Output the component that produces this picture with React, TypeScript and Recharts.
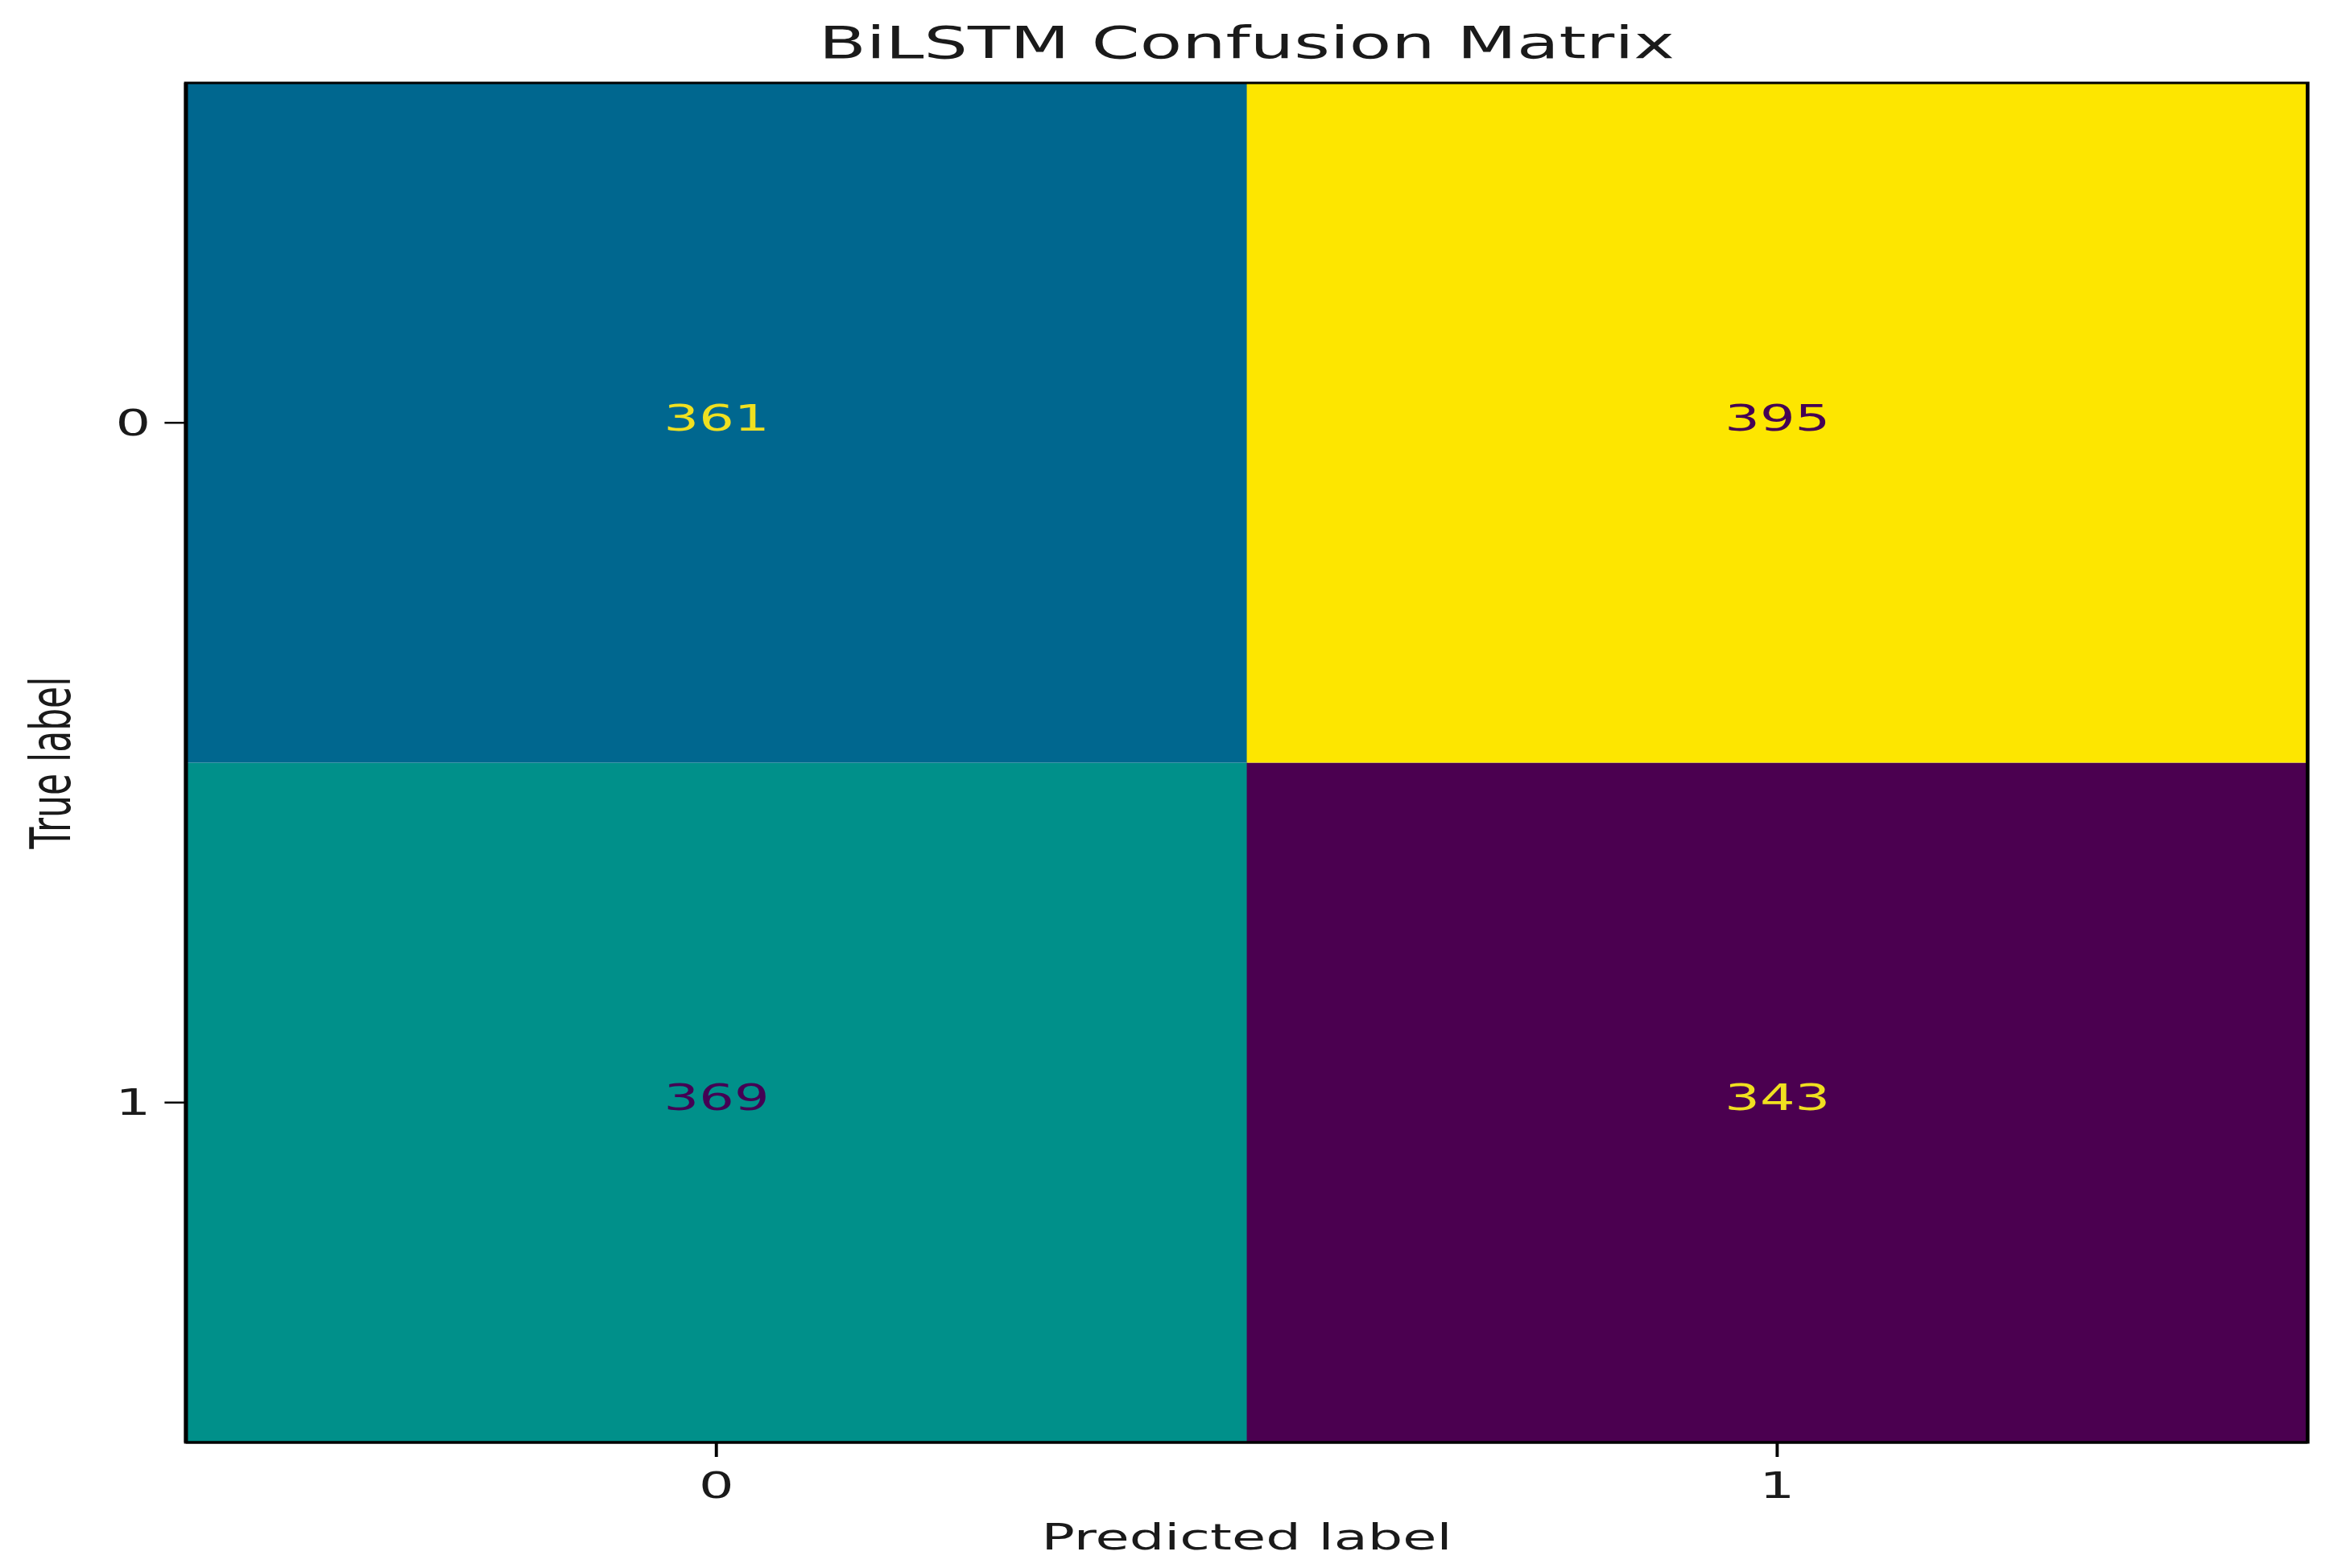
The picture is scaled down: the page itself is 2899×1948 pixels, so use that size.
import React from "react"
import { BarChart, Bar, XAxis, YAxis, Cell, LabelList, Customized, ReferenceArea } from "recharts"

// confusion matrix: rows = true label, columns = predicted label
const predictedLabels = ["0", "1"]
const trueLabels = ["0", "1"]
const trueZeroCounts = [361, 395]
const trueOneCounts = [369, 343]

const chartTitle = "BiLSTM Confusion Matrix"
const xAxisTitle = "Predicted label"
const yAxisTitle = "True label"

// the source figure is a matplotlib plot stretched sideways, so draw it narrow and scale it
const FIG_W = 2899
const FIG_H = 1948
const STRETCH = 1.56
const CHART_W = Math.round(FIG_W / STRETCH)
const Y_AXIS_W = 148
const X_AXIS_H = 150
const MARGIN = { top: 103, right: 21, left: 0, bottom: 6 }
const FONT = "'DejaVu Sans', sans-serif"
const INK = "#1a1a1a"

// viridis-like colormap (a bit punchier, as in the picture)
const cmapStops: [number, number[]][] = [
  [0, [75, 0, 80]],
  [0.25, [0, 78, 146]],
  [0.5, [0, 144, 138]],
  [0.75, [80, 200, 100]],
  [1, [253, 230, 0]],
]

const allCounts = [...trueZeroCounts, ...trueOneCounts]
const vmin = Math.min(...allCounts)
const vmax = Math.max(...allCounts)

function cmap(t: number) {
  const tt = Math.max(0, Math.min(1, t))
  for (let i = 1; i < cmapStops.length; i++) {
    const [t1, c1] = cmapStops[i]
    const [t0, c0] = cmapStops[i - 1]
    if (tt <= t1) {
      const f = (tt - t0) / (t1 - t0)
      const c = c0.map((v, k) => Math.round(v + (c1[k] - v) * f))
      return `rgb(${c[0]},${c[1]},${c[2]})`
    }
  }
  return "rgb(253,230,0)"
}

const cellColor = (v: number) => cmap((v - vmin) / (vmax - vmin))
const textColor = (v: number) => (v < (vmin + vmax) / 2 ? "#f0e020" : "#440154")

const data = predictedLabels.map((p, i) => ({
  pred: p,
  lower: 1,
  upper: 1,
  countLower: trueOneCounts[i],
  countUpper: trueZeroCounts[i],
}))

const yTicks = trueLabels.map((_, i) => trueLabels.length - i - 0.5)
const yTickLabel = (v: number) => trueLabels[Math.round(trueLabels.length - 0.5 - v)]

const renderCount = (props: any) => {
  const x = Number(props.x)
  const y = Number(props.y)
  const w = Number(props.width)
  const h = Number(props.height)
  const v = Number(props.value)
  return (
    <text
      x={x + w / 2}
      y={y + h / 2}
      dy="0.22em"
      textAnchor="middle"
      fontSize={44}
      fontFamily={FONT}
      fill={textColor(v)}
    >
      {v}
    </text>
  )
}

const renderYTitle = (props: any) => {
  const vb = props.viewBox
  const cx = vb.x + 56
  const cy = vb.y + vb.height / 2
  return (
    <text
      x={cx}
      y={cy}
      transform={`rotate(-90, ${cx}, ${cy})`}
      textAnchor="middle"
      fontSize={44}
      fontFamily={FONT}
      fill={INK}
    >
      {yAxisTitle}
    </text>
  )
}

const renderXTitle = (props: any) => {
  const vb = props.viewBox
  return (
    <text
      x={vb.x + vb.width / 2}
      y={vb.y + 133}
      textAnchor="middle"
      fontSize={44}
      fontFamily={FONT}
      fill={INK}
    >
      {xAxisTitle}
    </text>
  )
}

const Title = () => {
  const plotW = CHART_W - Y_AXIS_W - MARGIN.left - MARGIN.right
  return (
    <text
      x={MARGIN.left + Y_AXIS_W + plotW / 2}
      y={72}
      textAnchor="middle"
      fontSize={55}
      fontFamily={FONT}
      fill={INK}
    >
      {chartTitle}
    </text>
  )
}

const axisLine = { stroke: "#000", strokeWidth: 3 }
const tickLine = { stroke: "#000", strokeWidth: 2.5 }
const tickStyle = { fontSize: 44, fontFamily: FONT, fill: INK }

export default function App() {
  return (
    <div style={{ position: "absolute", left: 0, top: 0, width: FIG_W, height: FIG_H, overflow: "hidden", background: "#fff" }}>
      <div style={{ width: CHART_W, height: FIG_H, transform: `scaleX(${FIG_W / CHART_W})`, transformOrigin: "0 0" }}>
        <BarChart
          width={CHART_W}
          height={FIG_H}
          data={data}
          margin={MARGIN}
          barCategoryGap={0}
          barGap={0}
        >
          <Bar dataKey="lower" stackId="m" isAnimationActive={false}>
            {data.map((d) => (
              <Cell key={`l-${d.pred}`} fill={cellColor(d.countLower)} />
            ))}
            <LabelList dataKey="countLower" content={renderCount} />
          </Bar>
          <Bar dataKey="upper" stackId="m" isAnimationActive={false}>
            {data.map((d) => (
              <Cell key={`u-${d.pred}`} fill={cellColor(d.countUpper)} />
            ))}
            <LabelList dataKey="countUpper" content={renderCount} />
          </Bar>
          <XAxis
            dataKey="pred"
            height={X_AXIS_H}
            axisLine={axisLine}
            tickLine={tickLine}
            tickSize={18}
            tickMargin={20}
            tick={tickStyle}
            label={{ content: renderXTitle }}
          />
          <YAxis
            type="number"
            domain={[0, trueLabels.length]}
            ticks={yTicks}
            tickFormatter={yTickLabel}
            width={Y_AXIS_W}
            axisLine={axisLine}
            tickLine={tickLine}
            tickSize={17}
            tickMargin={11}
            tick={tickStyle}
            label={{ content: renderYTitle }}
          />
          {/* black frame round the matrix */}
          <ReferenceArea
            y1={0}
            y2={trueLabels.length}
            fill="none"
            fillOpacity={0}
            stroke="#000"
            strokeWidth={3}
            ifOverflow="visible"
            zIndex={700}
          />
          <Customized component={Title} />
        </BarChart>
      </div>
    </div>
  )
}
